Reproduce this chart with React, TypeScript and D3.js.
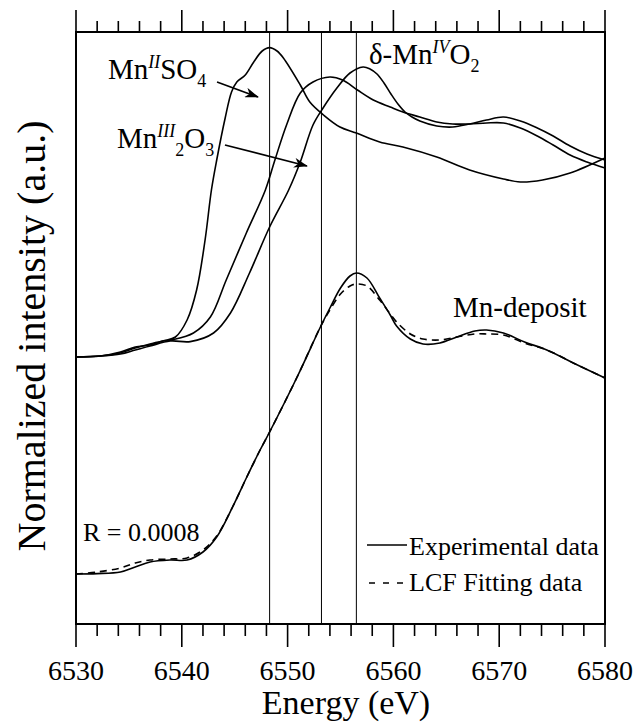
import React from 'react';
import * as d3 from 'd3';

const W = 636;
const H = 726;
const FONT = "'Liberation Serif', 'Times New Roman', serif";

// axis
const energyDomain = [6530, 6580];
const intensityDomain = [-0.25, 2.71];
const energyTicks = [6530, 6540, 6550, 6560, 6570, 6580];
const minorEnergyTicks = [6532, 6534, 6536, 6538, 6542, 6544, 6546, 6548, 6552, 6554, 6556, 6558, 6562, 6564, 6566, 6568, 6572, 6574, 6576, 6578];
const referenceEnergies = [6548.3, 6553.2, 6556.5];
const referenceOffset = 1.085;

// reference spectra [energy (eV), normalized intensity]
const mnSO4 = [
  [6530, 0.0], [6532.3, 0.005], [6534.2, 0.025], [6535.6, 0.05], [6537.0, 0.06], [6538.2, 0.08],
  [6539.4, 0.1], [6540.5, 0.185], [6541.4, 0.335], [6542.2, 0.585], [6542.8, 0.835], [6543.3, 0.985],
  [6544.1, 1.195], [6544.7, 1.325], [6545.2, 1.375], [6546.0, 1.41], [6546.8, 1.475], [6547.6, 1.53],
  [6548.3, 1.547], [6549.0, 1.53], [6549.6, 1.495], [6551.2, 1.36], [6552.1, 1.275], [6553.4, 1.21],
  [6554.95, 1.15], [6556.5, 1.12], [6558.7, 1.075], [6560.9, 1.05], [6564.1, 1.0], [6567.2, 0.935],
  [6570.4, 0.89], [6572.0, 0.875], [6574.1, 0.885], [6576.7, 0.92], [6580, 0.995],
];
const mn2O3 = [
  [6530, 0.0], [6532.3, 0.005], [6534.2, 0.02], [6535.6, 0.045], [6537.0, 0.065], [6538.2, 0.08],
  [6539.2, 0.087], [6541.1, 0.12], [6542.7, 0.2], [6544.2, 0.385], [6546.1, 0.62], [6547.9, 0.835],
  [6548.8, 0.985], [6549.9, 1.16], [6551.2, 1.32], [6552.4, 1.375], [6554.0, 1.40], [6555.2, 1.385],
  [6556.6, 1.335], [6558.1, 1.285], [6559.7, 1.25], [6560.9, 1.225], [6562.5, 1.20], [6564.1, 1.175],
  [6565.6, 1.165], [6567.2, 1.165], [6568.8, 1.17], [6570.4, 1.17], [6572.0, 1.145], [6573.6, 1.105],
  [6575.1, 1.06], [6576.7, 1.01], [6578.3, 0.975], [6580, 0.945],
];
const deltaMnO2 = [
  [6530, 0.0], [6532.3, 0.005], [6534.2, 0.015], [6535.6, 0.035], [6537.0, 0.055], [6538.9, 0.08],
  [6540.8, 0.077], [6543.0, 0.12], [6544.6, 0.22], [6546.4, 0.42], [6548.3, 0.65], [6550.1, 0.835],
  [6551.2, 0.975], [6552.4, 1.16], [6553.35, 1.245], [6554.66, 1.345], [6555.9, 1.42], [6557.13, 1.45],
  [6557.79, 1.44], [6558.45, 1.415], [6559.11, 1.37], [6559.77, 1.315], [6560.43, 1.265], [6561.1, 1.225],
  [6561.76, 1.2], [6562.5, 1.18], [6564.1, 1.155], [6565.6, 1.15], [6567.2, 1.165], [6568.8, 1.185],
  [6570.4, 1.20], [6572.0, 1.18], [6573.6, 1.145], [6575.1, 1.105], [6576.7, 1.055], [6578.3, 1.015],
  [6580, 0.985],
];

// Mn-deposit experimental and LCF fit
const depositExperimental = [
  [6530, 0.0], [6532, 0.002], [6534.2, 0.01], [6535.6, 0.035], [6537.0, 0.06], [6538.9, 0.07],
  [6540.5, 0.07], [6542.0, 0.11], [6543.3, 0.185], [6544.8, 0.335], [6546.1, 0.48], [6547.4, 0.62],
  [6548.3, 0.71], [6550.9, 0.985], [6553.1, 1.235], [6554.0, 1.33], [6555.0, 1.43], [6555.9, 1.49],
  [6556.5, 1.505], [6557.5, 1.48], [6558.7, 1.38], [6559.7, 1.295], [6560.3, 1.24], [6561.6, 1.175],
  [6562.8, 1.15], [6564.4, 1.155], [6566.0, 1.185], [6567.7, 1.215], [6568.8, 1.22], [6570.4, 1.205],
  [6572.4, 1.16], [6574.5, 1.12], [6577.2, 1.05], [6580, 0.98],
];
const depositFit = [
  [6530, 0.0], [6532, 0.01], [6534.2, 0.03], [6535.6, 0.055], [6537.0, 0.07], [6538.9, 0.075],
  [6540.5, 0.08], [6542.0, 0.12], [6543.3, 0.19], [6544.8, 0.335], [6546.1, 0.48], [6547.4, 0.62],
  [6548.3, 0.71], [6550.9, 0.985], [6553.1, 1.235], [6554.0, 1.32], [6555.0, 1.40], [6555.9, 1.44],
  [6556.5, 1.45], [6557.5, 1.44], [6558.7, 1.37], [6559.7, 1.30], [6560.3, 1.26], [6561.6, 1.20],
  [6562.8, 1.175], [6564.4, 1.17], [6566.0, 1.185], [6567.7, 1.20], [6568.8, 1.20], [6570.4, 1.195],
  [6572.4, 1.155], [6574.5, 1.12], [6577.2, 1.05], [6580, 0.98],
];

// annotation arrows [x1, y1, x2, y2] in data units
const arrowSO4 = [6543.33, 2.46, 6547.2, 2.385];
const arrowMn2O3 = [6544.08, 2.145, 6551.83, 2.04];

export default function App() {
  const x = d3.scaleLinear().domain(energyDomain).range([76, 605]);
  const y = d3.scaleLinear().domain(intensityDomain).range([624, 32]);
  const [x0, x1] = x.range();
  const [yb, yt] = y.range();

  const mkLine = (off: number) =>
    d3.line<number[]>()
      .x((d) => x(d[0]))
      .y((d) => y(d[1] + off))
      .curve(d3.curveCatmullRom.alpha(0.5));

  const refLine = mkLine(referenceOffset);
  const depLine = mkLine(0);

  const curveStyle = { fill: 'none', stroke: '#000', strokeWidth: 1.6 };
  const tf = { fontFamily: FONT, fill: '#000' };

  const arrow = (a: number[], key: string) => (
    <line key={key} x1={x(a[0])} y1={y(a[1])} x2={x(a[2])} y2={y(a[3])}
      stroke="#000" strokeWidth={1.6} markerEnd="url(#ah)" />
  );

  return (
    <svg width={W} height={H} style={{ position: 'absolute', left: 0, top: 0, background: '#fff' }}>
      <defs>
        <marker id="ah" viewBox="0 0 14 10" refX="13" refY="5" markerWidth="14" markerHeight="10"
          markerUnits="userSpaceOnUse" orient="auto">
          <path d="M0,0 L14,5 L0,10 L4,5 Z" fill="#000" />
        </marker>
      </defs>

      {/* reference vertical lines */}
      {referenceEnergies.map((e) => (
        <line key={e} x1={x(e)} x2={x(e)} y1={yt} y2={yb} stroke="#000" strokeWidth={1} />
      ))}

      {/* curves */}
      <path d={refLine(mnSO4) || ''} {...curveStyle} />
      <path d={refLine(mn2O3) || ''} {...curveStyle} />
      <path d={refLine(deltaMnO2) || ''} {...curveStyle} />
      <path d={depLine(depositExperimental) || ''} {...curveStyle} />
      <path d={depLine(depositFit) || ''} {...curveStyle} strokeDasharray="7,5" />

      {/* frame */}
      <rect x={x0} y={yt} width={x1 - x0} height={yb - yt} fill="none" stroke="#000" strokeWidth={2} />

      {/* ticks */}
      {energyTicks.map((t) => (
        <g key={'M' + t}>
          <line x1={x(t)} x2={x(t)} y1={yb} y2={yb + 23} stroke="#000" strokeWidth={1.6} />
          <line x1={x(t)} x2={x(t)} y1={yt} y2={yt - 22} stroke="#000" strokeWidth={1.6} />
          <text x={x(t)} y={680} textAnchor="middle" fontSize={28} style={tf}>{t}</text>
        </g>
      ))}
      {minorEnergyTicks.map((t) => (
        <g key={'m' + t}>
          <line x1={x(t)} x2={x(t)} y1={yb} y2={yb + 12} stroke="#000" strokeWidth={1.6} />
          <line x1={x(t)} x2={x(t)} y1={yt} y2={yt - 11} stroke="#000" strokeWidth={1.6} />
        </g>
      ))}

      {/* axis titles */}
      <text x={346} y={714} textAnchor="middle" fontSize={34} style={tf}>Energy (eV)</text>
      <text transform="translate(45,336) rotate(-90)" textAnchor="middle" fontSize={40} style={tf}>
        Normalized intensity (a.u.)
      </text>

      {/* annotations */}
      {arrow(arrowSO4, 'a1')}
      {arrow(arrowMn2O3, 'a2')}

      <text x={x(6533.02)} y={y(2.475)} fontSize={29} style={tf}>
        Mn<tspan fontSize={18} fontStyle="italic" dy={-11}>II</tspan>
        <tspan dy={11}>SO</tspan>
        <tspan fontSize={18} dy={8}>4</tspan>
      </text>
      <text x={x(6533.88)} y={y(2.13)} fontSize={29} style={tf}>
        Mn<tspan fontSize={18} fontStyle="italic" dy={-11}>III</tspan>
        <tspan fontSize={18} dy={19}>2</tspan>
        <tspan dy={-8}>O</tspan>
        <tspan fontSize={18} dy={8}>3</tspan>
      </text>
      <text x={x(6557.69)} y={y(2.55)} fontSize={29} style={tf}>
        δ-Mn<tspan fontSize={18} fontStyle="italic" dy={-11}>IV</tspan>
        <tspan dy={11}>O</tspan>
        <tspan fontSize={18} dy={8}>2</tspan>
      </text>
      <text x={x(6565.63)} y={y(1.285)} fontSize={29} style={tf}>Mn-deposit</text>
      <text x={x(6530.66)} y={y(0.165)} fontSize={26} style={tf}>R = 0.0008</text>

      {/* legend */}
      <line x1={367} x2={407} y1={545} y2={545} stroke="#000" strokeWidth={1.6} />
      <text x={409} y={555} fontSize={26} style={tf}>Experimental data</text>
      <line x1={369} x2={407} y1={583} y2={583} stroke="#000" strokeWidth={1.6} strokeDasharray="6,8" />
      <text x={409} y={591} fontSize={26} style={tf}>LCF Fitting data</text>
    </svg>
  );
}
